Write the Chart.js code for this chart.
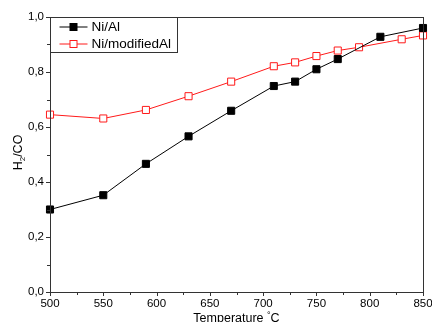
<!DOCTYPE html>
<html>
<head>
<meta charset="utf-8">
<script src="https://cdn.jsdelivr.net/npm/chart.js@4.4.1/dist/chart.umd.min.js"></script>
<style>
  html, body { margin: 0; padding: 0; background: #fff; }
  #wrap { width: 432px; height: 322px; position: relative; }
</style>
</head>
<body>
<div id="wrap"><canvas id="c" width="432" height="322"></canvas></div>
<script>
// H2/CO ratio versus reaction temperature for the two catalysts
const tempsNiAl = [500, 550, 590, 630, 670, 710, 730, 750, 770, 810, 850];
const ratioNiAl = [0.30, 0.352, 0.466, 0.566, 0.659, 0.749, 0.765, 0.81, 0.847, 0.928, 0.96];

const tempsNiMod = [500, 550, 590, 630, 670, 710, 730, 750, 770, 790, 830, 850];
const ratioNiMod = [0.645, 0.631, 0.662, 0.712, 0.765, 0.821, 0.835, 0.858, 0.878, 0.890, 0.919, 0.933];

const xTicks = [500, 550, 600, 650, 700, 750, 800, 850];
const yTicks = [0.0, 0.2, 0.4, 0.6, 0.8, 1.0];

const seriesNames = ['Ni/Al', 'Ni/modifiedAl'];

const FONT = '"Liberation Sans", Arial, sans-serif';

function pairs(xs, ys) { return xs.map((x, i) => ({ x: x, y: ys[i] })); }

// Frame, outward major/minor ticks, axis titles and the boxed legend
const decor = {
  id: 'decor',
  afterDraw(chart) {
    const { ctx, chartArea: a, scales } = chart;
    const xs = scales.x, ys = scales.y;
    ctx.save();
    ctx.strokeStyle = '#333';
    ctx.lineWidth = 1;
    ctx.strokeRect(Math.round(a.left) + 0.5, Math.round(a.top) + 0.5,
                   Math.round(a.right - a.left), Math.round(a.bottom - a.top));

    ctx.beginPath();
    for (let v = 500; v <= 850; v += 25) {
      const px = Math.round(xs.getPixelForValue(v)) + 0.5;
      const len = (v % 50 === 0) ? 4 : 3;
      ctx.moveTo(px, a.bottom); ctx.lineTo(px, a.bottom + len);
    }
    for (let k = 0; k <= 10; k++) {
      const py = Math.round(ys.getPixelForValue(k / 10)) + 0.5;
      const len = (k % 2 === 0) ? 4 : 3;
      ctx.moveTo(a.left, py); ctx.lineTo(a.left - len, py);
    }
    ctx.stroke();

    // x title: Temperature °C
    ctx.fillStyle = '#000';
    ctx.textBaseline = 'alphabetic';
    const cx = (a.left + a.right) / 2;
    const t1 = 'Temperature ', t2 = '°', t3 = 'C';
    ctx.font = '12.5px ' + FONT;
    const w1 = ctx.measureText(t1).width, w3 = ctx.measureText(t3).width;
    ctx.font = '9px ' + FONT;
    const w2 = ctx.measureText(t2).width;
    const x0 = cx - (w1 + w2 + w3) / 2;
    const yb = 322;
    ctx.font = '12.5px ' + FONT;
    ctx.textAlign = 'left';
    ctx.fillText(t1, x0, yb);
    ctx.font = '9px ' + FONT;
    ctx.fillText(t2, x0 + w1, yb - 4);
    ctx.font = '12.5px ' + FONT;
    ctx.fillText(t3, x0 + w1 + w2, yb);

    // y title: H2/CO with subscript
    ctx.save();
    ctx.translate(22, (a.top + a.bottom) / 2 - 2);
    ctx.rotate(-Math.PI / 2);
    ctx.font = '12.5px ' + FONT;
    const h = 'H', s = '2', r = '/CO';
    const wh = ctx.measureText(h).width, wr = ctx.measureText(r).width;
    ctx.font = '8px ' + FONT;
    const ws = ctx.measureText(s).width;
    const sx = -(wh + ws + wr) / 2;
    ctx.font = '12.5px ' + FONT;
    ctx.fillText(h, sx, 0);
    ctx.font = '8px ' + FONT;
    ctx.fillText(s, sx + wh, 3);
    ctx.font = '12.5px ' + FONT;
    ctx.fillText(r, sx + wh + ws, 0);
    ctx.restore();

    // legend box
    const lx = Math.round(a.left) + 0.5, ly = Math.round(a.top) + 0.5;
    ctx.strokeStyle = '#333';
    ctx.strokeRect(lx, ly, 127, 35);
    chart.data.datasets.forEach((ds, i) => {
      const yy = ly + 9.5 + i * 17;
      ctx.strokeStyle = ds.borderColor;
      ctx.lineWidth = 1;
      ctx.beginPath();
      ctx.moveTo(lx + 9, yy); ctx.lineTo(lx + 37, yy);
      ctx.stroke();
      ctx.fillStyle = ds.pointBackgroundColor;
      ctx.fillRect(lx + 19.5, yy - 3.5, 7, 7);
      ctx.strokeStyle = ds.pointBorderColor;
      ctx.strokeRect(lx + 19.5, yy - 3.5, 7, 7);
      ctx.fillStyle = '#000';
      ctx.font = '13.5px ' + FONT;
      ctx.textAlign = 'left';
      ctx.textBaseline = 'middle';
      ctx.fillText(ds.label, lx + 41, yy + 0.5);
    });
    ctx.restore();
  }
};

new Chart(document.getElementById('c'), {
  type: 'line',
  data: {
    datasets: [
      {
        label: seriesNames[0],
        data: pairs(tempsNiAl, ratioNiAl),
        borderColor: '#000',
        borderWidth: 1,
        pointStyle: 'rect',
        pointRadius: 5,
        pointBackgroundColor: '#000',
        pointBorderColor: '#000',
        pointBorderWidth: 1,
        clip: false
      },
      {
        label: seriesNames[1],
        data: pairs(tempsNiMod, ratioNiMod),
        borderColor: '#ff1a1a',
        borderWidth: 1,
        pointStyle: 'rect',
        pointRadius: 5,
        pointBackgroundColor: '#fff',
        pointBorderColor: '#ff1a1a',
        pointBorderWidth: 1,
        clip: false
      }
    ]
  },
  options: {
    responsive: false,
    animation: false,
    devicePixelRatio: 1,
    layout: { padding: { left: 0, right: 9, top: 17, bottom: 0 } },
    plugins: { legend: { display: false }, tooltip: { enabled: false } },
    scales: {
      x: {
        type: 'linear',
        min: 500, max: 850,
        afterBuildTicks: s => { s.ticks = xTicks.map(v => ({ value: v })); },
        afterFit: s => { s.height = 30; s.paddingLeft = 0; s.paddingRight = 0; },
        grid: { display: false, drawTicks: false },
        border: { display: false },
        ticks: {
          padding: 5,
          color: '#000',
          font: { family: FONT, size: 11.5 },
          maxRotation: 0,
          callback: v => String(v)
        }
      },
      y: {
        type: 'linear',
        min: 0, max: 1,
        afterBuildTicks: s => { s.ticks = yTicks.map(v => ({ value: v })); },
        afterFit: s => { s.width = 50; s.paddingTop = 0; s.paddingBottom = 0; },
        grid: { display: false, drawTicks: false },
        border: { display: false },
        ticks: {
          padding: 6,
          color: '#000',
          font: { family: FONT, size: 11.5 },
          callback: v => v.toFixed(1).replace('.', ',')
        }
      }
    }
  },
  plugins: [decor]
});
</script>
</body>
</html>
